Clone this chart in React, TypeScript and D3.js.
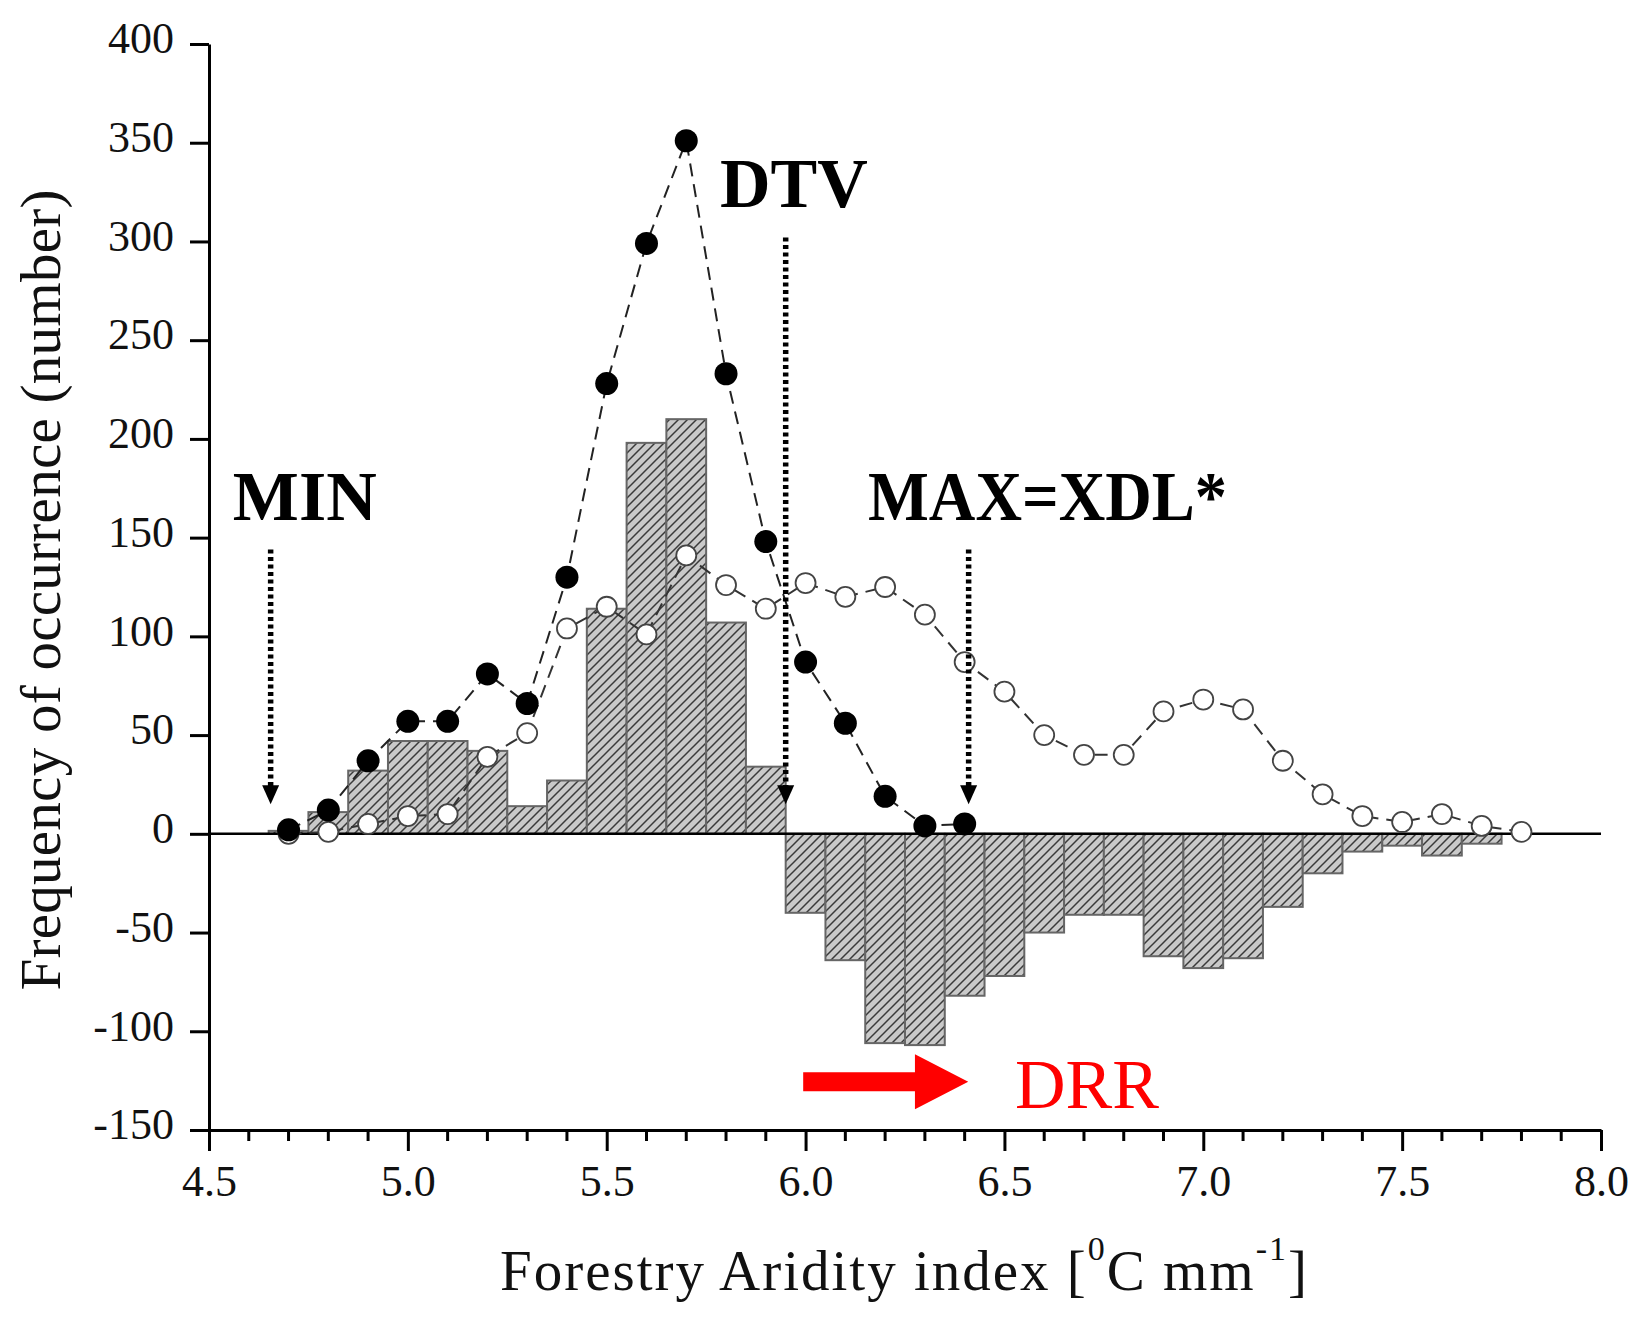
import { useEffect, useRef } from "react";
import * as d3 from "d3";

// bin centres of the aridity index histogram
const binCenters = [
  4.7, 4.8, 4.9, 5.0, 5.1, 5.2, 5.3, 5.4, 5.5, 5.6, 5.7, 5.8, 5.9, 6.0, 6.1, 6.2,
  6.3, 6.4, 6.5, 6.6, 6.7, 6.8, 6.9, 7.0, 7.1, 7.2, 7.3, 7.4, 7.5, 7.6, 7.7, 7.8,
];

// filled dots (4.7 .. 6.4)
const filledCount = [2, 12, 37, 57, 57, 81, 66, 130, 228, 299, 351, 233, 148, 87, 56, 19, 4, 5];

// open circles (4.7 .. 7.8)
const openCount = [
  0, 1, 5, 9, 10, 39, 51, 104, 115, 101, 141, 126, 114, 127, 120, 125, 111, 87, 72, 50,
  40, 40, 62, 68, 63, 37, 20, 9, 6, 10, 4, 1,
];

// hatched difference bars (4.7 .. 7.7)
const diffBars = [
  1.5, 11, 32, 47, 47, 42, 14, 27, 114, 198, 210, 107, 34, -40, -64, -106, -107, -82,
  -72, -50, -41, -41, -62, -68, -63, -37, -20, -9, -6, -11, -5,
];

const xTickValues = [4.5, 5.0, 5.5, 6.0, 6.5, 7.0, 7.5, 8.0];
const yTickValues = [-150, -100, -50, 0, 50, 100, 150, 200, 250, 300, 350, 400];

// dotted arrows: MIN, DTV, MAX
const arrowX = [4.655, 5.95, 6.41];
const arrowTop = [144, 302, 144];
const arrowTip = 15;

const labelText = ["MIN", "DTV", "MAX=XDL*"];
const labelX = [4.56, 5.785, 6.157];
const labelY = [159, 317.5, 159];

// red DRR arrow
const drrStart = 5.994;
const drrNeck = 6.275;
const drrEnd = 6.409;
const drrLevel = -125.6;

const serif = "'Liberation Serif', 'Times New Roman', serif";

export default function App() {
  const ref = useRef<SVGSVGElement | null>(null);

  useEffect(() => {
    if (!ref.current) return;
    document.body.style.margin = "0";

    const svg = d3.select(ref.current);
    svg.selectAll("*").remove();

    const x = d3.scaleLinear().domain([4.5, 8.0]).range([209, 1601]);
    const y = d3.scaleLinear().domain([-150, 400]).range([1130, 44]);

    const defs = svg.append("defs");
    const pat = defs
      .append("pattern")
      .attr("id", "hatch")
      .attr("patternUnits", "userSpaceOnUse")
      .attr("width", 9)
      .attr("height", 9);
    pat.append("rect").attr("width", 9).attr("height", 9).attr("fill", "#c9c9c9");
    pat
      .append("path")
      .attr("d", "M-2,2 L2,-2 M0,9 L9,0 M7,11 L11,7")
      .attr("stroke", "#3a3a3a")
      .attr("stroke-width", 1.5);

    // bars
    svg
      .append("g")
      .selectAll("rect")
      .data(diffBars)
      .join("rect")
      .attr("x", (_, i) => x(binCenters[i] - 0.05))
      .attr("width", (_, i) => x(binCenters[i] + 0.05) - x(binCenters[i] - 0.05))
      .attr("y", (d) => y(Math.max(d, 0)))
      .attr("height", (d) => Math.abs(y(d) - y(0)))
      .attr("fill", "url(#hatch)")
      .attr("stroke", "#666")
      .attr("stroke-width", 2);

    // zero line
    svg
      .append("line")
      .attr("x1", x(4.5))
      .attr("x2", x(8.0))
      .attr("y1", y(0))
      .attr("y2", y(0))
      .attr("stroke", "#000")
      .attr("stroke-width", 2.5);

    const line = d3
      .line<number>()
      .x((_, i) => x(binCenters[i]))
      .y((d) => y(d));

    svg
      .append("path")
      .datum(openCount)
      .attr("fill", "none")
      .attr("stroke", "#333")
      .attr("stroke-width", 2)
      .attr("stroke-dasharray", "13,8")
      .attr("d", line);

    svg
      .append("path")
      .datum(filledCount)
      .attr("fill", "none")
      .attr("stroke", "#222")
      .attr("stroke-width", 2)
      .attr("stroke-dasharray", "13,8")
      .attr("d", line);

    svg
      .append("g")
      .selectAll("circle")
      .data(openCount)
      .join("circle")
      .attr("cx", (_, i) => x(binCenters[i]))
      .attr("cy", (d) => y(d))
      .attr("r", 10)
      .attr("fill", "#fff")
      .attr("stroke", "#444")
      .attr("stroke-width", 1.8);

    svg
      .append("g")
      .selectAll("circle")
      .data(filledCount)
      .join("circle")
      .attr("cx", (_, i) => x(binCenters[i]))
      .attr("cy", (d) => y(d))
      .attr("r", 11.5)
      .attr("fill", "#000");

    // dotted arrows
    const arrows = svg.append("g");
    arrowX.forEach((ax, i) => {
      const px = x(ax);
      const tip = y(arrowTip);
      arrows
        .append("line")
        .attr("x1", px)
        .attr("x2", px)
        .attr("y1", y(arrowTop[i]))
        .attr("y2", tip - 18)
        .attr("stroke", "#000")
        .attr("stroke-width", 5.5)
        .attr("stroke-dasharray", "4,3.5");
      arrows
        .append("path")
        .attr("d", `M${px - 8.5},${tip - 19} L${px + 8.5},${tip - 19} L${px},${tip} Z`)
        .attr("fill", "#000");
    });

    // labels
    svg
      .append("g")
      .selectAll("text")
      .data(labelText)
      .join("text")
      .attr("x", (_, i) => x(labelX[i]))
      .attr("y", (_, i) => y(labelY[i]))
      .attr("font-family", serif)
      .attr("font-weight", "bold")
      .attr("font-size", 70)
      .attr("fill", "#000")
      .each(function (d) {
        if (d === "MAX=XDL*") d3.select(this).attr("textLength", 359).attr("lengthAdjust", "spacingAndGlyphs");
      })
      .text((d) => d);

    // DRR arrow
    const cy = y(drrLevel);
    svg
      .append("path")
      .attr(
        "d",
        `M${x(drrStart)},${cy - 9.5} L${x(drrNeck)},${cy - 9.5} L${x(drrNeck)},${cy - 27.5} L${x(drrEnd)},${cy} L${x(drrNeck)},${cy + 27.5} L${x(drrNeck)},${cy + 9.5} L${x(drrStart)},${cy + 9.5} Z`
      )
      .attr("fill", "#ff0000");
    svg
      .append("text")
      .attr("x", 1015)
      .attr("y", 1108)
      .attr("font-family", serif)
      .attr("font-size", 70)
      .attr("fill", "#ff0000")
      .text("DRR");

    // axes
    const gx = svg
      .append("g")
      .attr("transform", `translate(0,${y(-150)})`)
      .call(
        d3
          .axisBottom(x)
          .tickValues(xTickValues)
          .tickFormat(d3.format(".1f") as any)
          .tickSize(21)
          .tickSizeOuter(0)
          .tickPadding(14)
      );
    gx.attr("font-family", serif).attr("font-size", 44);
    gx.select(".domain").attr("stroke-width", 3);
    gx.selectAll(".tick line").attr("stroke-width", 3);
    gx.selectAll(".tick text").attr("fill", "#111");

    const minor = d3
      .range(45, 81)
      .map((v) => v / 10)
      .filter((v) => !xTickValues.some((t) => Math.abs(t - v) < 1e-6));
    gx.selectAll(".minor")
      .data(minor)
      .join("line")
      .attr("class", "minor")
      .attr("x1", (d) => x(d))
      .attr("x2", (d) => x(d))
      .attr("y1", 0)
      .attr("y2", 11)
      .attr("stroke", "#000")
      .attr("stroke-width", 3);

    const gy = svg
      .append("g")
      .attr("transform", `translate(${x(4.5)},0)`)
      .call(
        d3
          .axisLeft(y)
          .tickValues(yTickValues)
          .tickFormat((d) => String(d))
          .tickSize(19)
          .tickSizeOuter(0)
          .tickPadding(16)
      );
    gy.attr("font-family", serif).attr("font-size", 44);
    gy.select(".domain").attr("stroke-width", 3);
    gy.selectAll(".tick line").attr("stroke-width", 3);
    gy.selectAll(".tick text").attr("dy", "0.2em").attr("fill", "#111");

    // axis titles
    svg
      .append("text")
      .attr("transform", "translate(60,590) rotate(-90)")
      .attr("text-anchor", "middle")
      .attr("font-family", serif)
      .attr("font-size", 57)
      .attr("fill", "#111")
      .attr("textLength", 801)
      .attr("lengthAdjust", "spacing")
      .text("Frequency of occurrence (number)");

    const xt = svg
      .append("text")
      .attr("x", 500)
      .attr("y", 1290)
      .attr("font-family", serif)
      .attr("font-size", 57)
      .attr("fill", "#111")
      .attr("textLength", 807)
      .attr("lengthAdjust", "spacing");
    xt.append("tspan").text("Forestry Aridity index [");
    xt.append("tspan").attr("font-size", 34).attr("dy", -30).text("0");
    xt.append("tspan").attr("dy", 30).text("C mm");
    xt.append("tspan").attr("font-size", 34).attr("dy", -30).text("-1");
    xt.append("tspan").attr("dy", 30).text("]");
  }, []);

  return <svg ref={ref} width={1648} height={1323} style={{ display: "block", background: "#fff" }} />;
}
